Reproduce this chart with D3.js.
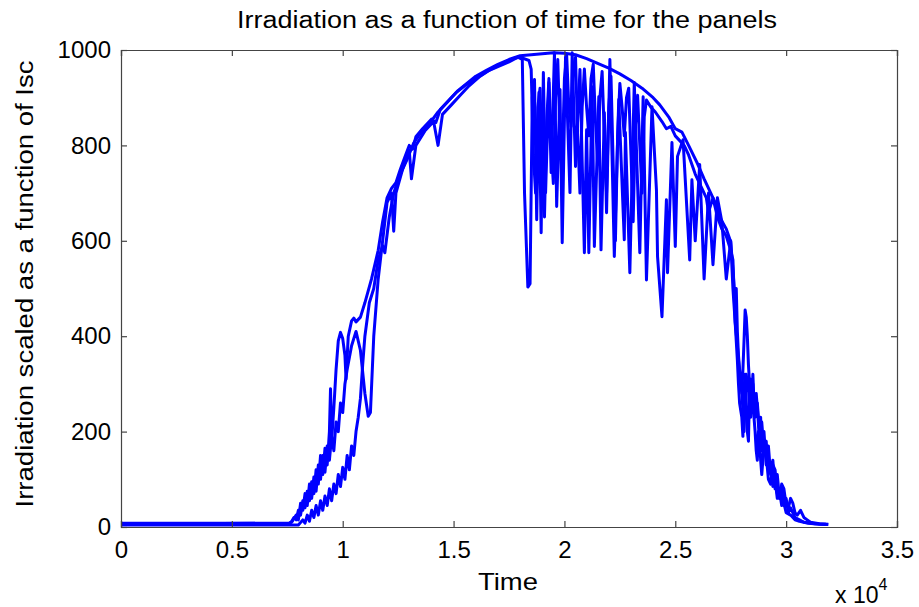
<!DOCTYPE html>
<html>
<head>
<meta charset="utf-8">
<script src="https://cdn.jsdelivr.net/npm/d3@7"></script>
<style>
  body { margin: 0; background: #fff; }
  text { font-family: "Liberation Sans", Arial, sans-serif; fill: #000; }
</style>
</head>
<body>
<svg id="chart"></svg>
<script>
// tick labels (axis in units of 10^4 s)
const xTicks = [0, 5000, 10000, 15000, 20000, 25000, 30000, 35000]
const xTickLabels = ['0', '0.5', '1', '1.5', '2', '2.5', '3', '3.5']
const yTicks = [0, 200, 400, 600, 800, 1000]

// panel 1: smooth clear-sky curve
const p1Time = [0, 7600, 7700, 7800, 7900, 8000, 8100, 8200, 8300, 8400, 8500, 8600, 8700, 8800, 8900, 9000, 9100, 9200, 9300, 9400, 9450, 9500, 9600, 9700, 9800, 9900, 10000, 10100, 10150, 10250, 10400, 10500, 10600, 10800, 11000, 11300, 11600, 11800, 12000, 12200, 12400, 12600, 12800, 13000, 13150, 13300, 13600, 14000, 14200, 14400, 14800, 15200, 15600, 16000, 16500, 17000, 17500, 18000, 18500, 19000, 19500, 20000, 20500, 21000, 21500, 22000, 22500, 23000, 23500, 24000, 24300, 24700, 25000, 25300, 25600, 26000, 26300, 26600, 26800, 27000, 27300, 27500, 27600, 27700, 27750, 27800, 27850, 27900, 27950, 28000, 28050, 28100, 28150, 28200, 28250, 28300, 28350, 28400, 28450, 28500, 28550, 28600, 28700, 28800, 28900, 29000, 29100, 29200, 29300, 29400, 29500, 29600, 29700, 29800, 29900, 30000, 30200, 30400, 30600, 31000, 31500, 31900]
const p1Irr = [6, 8, 12, 20, 15, 35, 25, 55, 40, 75, 55, 95, 70, 120, 90, 150, 110, 165, 130, 200, 290, 180, 250, 330, 390, 408, 395, 360, 310, 400, 432, 438, 430, 440, 470, 520, 580, 640, 690, 710, 722, 750, 775, 800, 792, 818, 835, 855, 848, 875, 895, 915, 930, 945, 958, 970, 980, 988, 990, 992, 994, 993, 990, 982, 972, 962, 950, 936, 920, 900, 885, 860, 835, 828, 800, 762, 730, 700, 680, 650, 625, 598, 540, 470, 500, 410, 360, 330, 300, 280, 330, 390, 455, 440, 400, 340, 300, 270, 300, 250, 280, 240, 260, 200, 220, 160, 180, 120, 130, 85, 100, 60, 75, 45, 50, 30, 25, 15, 12, 8, 6, 5]

// panel 2: close to panel 1, dips in the morning, partly clouded midday
const p2Time = [0, 7600, 7700, 7900, 8000, 8100, 8200, 8300, 8400, 8500, 8600, 8700, 8800, 8900, 9000, 9100, 9200, 9300, 9400, 9500, 9600, 9700, 9800, 9900, 10000, 10100, 10200, 10400, 10600, 10800, 11000, 11150, 11250, 11400, 11600, 11800, 12000, 12200, 12300, 12400, 12700, 13000, 13100, 13300, 13700, 14100, 14300, 14500, 14900, 15300, 15700, 16200, 16700, 17200, 17700, 18000, 18400, 18500, 18600, 18700, 18800, 18900, 19000, 19100, 19200, 19300, 19400, 19500, 19600, 19700, 19800, 19900, 20000, 20100, 20200, 20300, 20400, 20500, 20600, 20700, 20800, 20900, 21000, 21100, 21200, 21300, 21400, 21500, 21600, 21700, 21800, 21900, 22000, 22100, 22200, 22300, 22400, 22500, 22600, 22700, 22800, 22900, 23000, 23100, 23200, 23300, 23400, 23500, 23600, 23700, 23900, 24100, 24400, 24600, 24800, 25000, 25200, 25400, 25600, 25900, 26200, 26400, 26500, 26700, 26900, 27100, 27300, 27500, 27600, 27700, 27800, 27850, 27900, 28000, 28050, 28100, 28150, 28200, 28250, 28300, 28350, 28400, 28450, 28500, 28550, 28600, 28650, 28700, 28800, 28850, 28900, 29000, 29100, 29200, 29300, 29400, 29500, 29600, 29700, 29800, 29900, 30000, 30100, 30200, 30400, 30600, 30800, 31300, 31800]
const p2Irr = [8, 8, 10, 25, 15, 50, 35, 70, 45, 90, 60, 105, 75, 130, 100, 150, 115, 170, 140, 190, 160, 220, 200, 260, 240, 300, 330, 380, 410, 370, 280, 232, 240, 400, 520, 600, 680, 700, 620, 700, 750, 790, 730, 800, 830, 850, 800, 865, 885, 905, 925, 945, 960, 972, 982, 985, 978, 960, 780, 700, 880, 920, 760, 650, 850, 940, 800, 720, 900, 980, 820, 760, 940, 990, 880, 840, 960, 985, 820, 700, 880, 960, 880, 820, 940, 970, 850, 760, 900, 955, 820, 700, 880, 945, 760, 600, 820, 930, 880, 820, 900, 920, 780, 640, 840, 905, 800, 700, 860, 895, 880, 870, 850, 835, 840, 820, 810, 800, 780, 740, 710, 690, 660, 690, 650, 625, 610, 580, 560, 430, 350, 300, 260, 230, 190, 290, 320, 250, 200, 180, 290, 310, 270, 320, 260, 230, 280, 250, 180, 230, 160, 200, 130, 170, 110, 140, 80, 110, 60, 80, 45, 60, 30, 40, 20, 15, 10, 7, 6]

// panel 3: latest rise, heavy cloud drops in the afternoon
const p3Time = [0, 8000, 8200, 8300, 8400, 8500, 8600, 8700, 8800, 8900, 9000, 9100, 9200, 9300, 9400, 9500, 9600, 9700, 9800, 9900, 10000, 10100, 10200, 10300, 10400, 10500, 10600, 10700, 10800, 10900, 11000, 11200, 11400, 11600, 11800, 11900, 12100, 12300, 12600, 12900, 13200, 13500, 13900, 14300, 14700, 15100, 15500, 16000, 16500, 17000, 17500, 17900, 18100, 18200, 18350, 18450, 18550, 18650, 18750, 18850, 18950, 19050, 19150, 19300, 19400, 19550, 19650, 19800, 19900, 20050, 20250, 20350, 20500, 20700, 20900, 21000, 21100, 21250, 21350, 21550, 21650, 21800, 21900, 22050, 22250, 22450, 22700, 22750, 22950, 23150, 23400, 23550, 23700, 23950, 24150, 24200, 24400, 24600, 24650, 24850, 25000, 25100, 25350, 25650, 25750, 25900, 26100, 26300, 26500, 26700, 26900, 27100, 27300, 27500, 27600, 27700, 27800, 27900, 28000, 28050, 28100, 28150, 28200, 28250, 28300, 28350, 28400, 28450, 28500, 28550, 28600, 28650, 28700, 28750, 28800, 28850, 28900, 29000, 29100, 29200, 29300, 29400, 29500, 29600, 29700, 29800, 29900, 30000, 30100, 30200, 30300, 30400, 30500, 30650, 30800, 30950, 31100, 31500, 31900]
const p3Irr = [4, 4, 15, 8, 25, 12, 35, 20, 45, 25, 55, 35, 65, 45, 80, 55, 90, 70, 110, 85, 125, 100, 150, 120, 170, 150, 200, 230, 270, 340, 400, 470, 500, 560, 590, 575, 650, 700, 740, 770, 805, 825, 845, 870, 890, 910, 925, 940, 955, 965, 975, 985, 980, 700, 503, 510, 900, 938, 644, 911, 617, 953, 701, 932, 743, 994, 672, 917, 596, 986, 701, 994, 756, 959, 575, 833, 575, 923, 588, 902, 581, 869, 659, 980, 567, 896, 602, 827, 533, 932, 575, 902, 518, 881, 707, 567, 441, 686, 533, 806, 588, 777, 812, 560, 728, 600, 760, 520, 700, 550, 690, 640, 520, 600, 500, 430, 380, 320, 290, 240, 200, 260, 320, 300, 290, 250, 230, 280, 300, 230, 200, 160, 140, 200, 190, 140, 110, 170, 150, 100, 90, 130, 120, 70, 60, 90, 80, 45, 40, 60, 50, 30, 25, 35, 20, 15, 10, 7, 6]

const series = [
  {t: p1Time, v: p1Irr},
  {t: p2Time, v: p2Irr},
  {t: p3Time, v: p3Irr}
]

const width = 919, height = 607
const margin = {left: 121, right: 22, top: 50, bottom: 80}

const svg = d3.select('#chart')
  .attr('width', width)
  .attr('height', height)

const x = d3.scaleLinear().domain([0, 35000]).range([margin.left, width - margin.right])
const y = d3.scaleLinear().domain([0, 1000]).range([height - margin.bottom, margin.top])

// lines
const line = d3.line()
  .x(d => x(d[0]))
  .y(d => y(d[1]))

svg.append('g').selectAll('path')
  .data(series)
  .join('path')
  .attr('d', s => line(s.t.map((t, i) => [t, s.v[i]])))
  .attr('fill', 'none')
  .attr('stroke', '#0000ff')
  .attr('stroke-width', 3)
  .attr('stroke-linejoin', 'round')

// box + inward ticks (matlab style)
const axColor = '#444'
const tickLen = 6

svg.append('g')
  .attr('transform', `translate(0,${y(0)})`)
  .call(d3.axisBottom(x).tickValues(xTicks).tickSize(-tickLen).tickPadding(14)
    .tickFormat((d, i) => xTickLabels[i]))
svg.append('g')
  .attr('transform', `translate(0,${y(1000)})`)
  .call(d3.axisTop(x).tickValues(xTicks).tickSize(-tickLen).tickFormat(''))
svg.append('g')
  .attr('transform', `translate(${x(0)},0)`)
  .call(d3.axisLeft(y).tickValues(yTicks).tickSize(-tickLen).tickPadding(10)
    .tickFormat(d3.format('d')))
svg.append('g')
  .attr('transform', `translate(${x(35000)},0)`)
  .call(d3.axisRight(y).tickValues(yTicks).tickSize(-tickLen).tickFormat(''))

svg.selectAll('.domain').attr('stroke', axColor).attr('stroke-width', 1.2)
svg.selectAll('.tick line').attr('stroke', axColor).attr('stroke-width', 1.2)
svg.selectAll('.tick text')
  .attr('font-size', 24)
  .attr('font-family', '"Liberation Sans", Arial, sans-serif')
  .attr('fill', '#000')

// title
svg.append('text')
  .attr('x', 507).attr('y', 28)
  .attr('text-anchor', 'middle')
  .attr('font-size', 23)
  .attr('textLength', 540)
  .attr('lengthAdjust', 'spacingAndGlyphs')
  .text('Irradiation as a function of time for the panels')

// x label
svg.append('text')
  .attr('x', 508).attr('y', 590)
  .attr('text-anchor', 'middle')
  .attr('font-size', 24)
  .attr('textLength', 60)
  .attr('lengthAdjust', 'spacingAndGlyphs')
  .text('Time')

// y label
svg.append('text')
  .attr('transform', 'translate(33,284) rotate(-90)')
  .attr('text-anchor', 'middle')
  .attr('font-size', 23)
  .attr('textLength', 447)
  .attr('lengthAdjust', 'spacingAndGlyphs')
  .text('Irradiation scaled as a function of Isc')

// exponent
const expo = svg.append('text')
  .attr('x', 835).attr('y', 603)
  .attr('font-size', 23)
expo.append('tspan').text('x 10')
expo.append('tspan').attr('dy', -13).attr('font-size', 16).text('4')
</script>
</body>
</html>
